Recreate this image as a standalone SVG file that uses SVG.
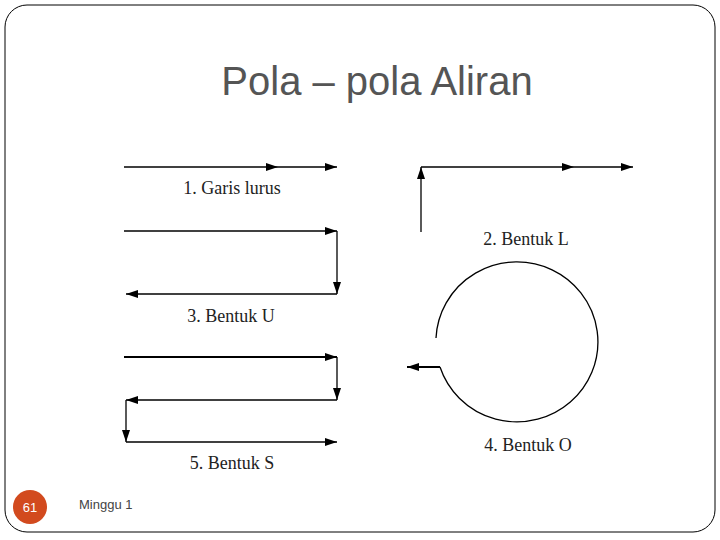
<svg xmlns="http://www.w3.org/2000/svg" width="720" height="540" viewBox="0 0 720 540">
<style>
.ln{stroke:#000;stroke-width:1.3;fill:none}
.lb{font-family:"Liberation Serif",serif;font-size:18px;fill:#222}
</style>
<defs>
<marker id="ah" viewBox="0 0 12 8" refX="12" refY="4" markerWidth="12" markerHeight="8" markerUnits="userSpaceOnUse" orient="auto"><path d="M0,0L12,4L0,8z" fill="#000"/></marker>
<marker id="mh" viewBox="0 0 12 8" refX="6" refY="4" markerWidth="12" markerHeight="8" markerUnits="userSpaceOnUse" orient="auto"><path d="M0,0L12,4L0,8z" fill="#000"/></marker>
</defs>
<rect x="5" y="5" width="710" height="527" rx="22" fill="#fff" stroke="#000" stroke-width="1"/>
<text x="377" y="95" text-anchor="middle" font-family="Liberation Sans,sans-serif" font-size="40" fill="#555">Pola – pola Aliran</text>
<g id="connectors">
<path class="ln" d="M124,167H272" marker-end="url(#mh)"/><path class="ln" d="M270,167H337" marker-end="url(#ah)"/>
<path class="ln" d="M124,231H337" marker-end="url(#ah)"/>
<path class="ln" d="M337,231V294" marker-end="url(#ah)"/>
<path class="ln" d="M337,294H126" marker-end="url(#ah)"/>
<path class="ln" style="stroke-width:2" d="M124,357H337" marker-end="url(#ah)"/>
<path class="ln" d="M337,357V400" marker-end="url(#ah)"/>
<path class="ln" d="M337,400H126" marker-end="url(#ah)"/>
<path class="ln" d="M126,400V442" marker-end="url(#ah)"/>
<path class="ln" d="M126,442H337" marker-end="url(#ah)"/>
<path class="ln" d="M421,232V167" marker-end="url(#ah)"/>
<path class="ln" d="M421,167H568" marker-end="url(#mh)"/><path class="ln" d="M566,167H633" marker-end="url(#ah)"/>
<path class="ln" d="M436,338A81,80 0 1 1 440,367"/>
<path class="ln" style="stroke-width:2" d="M440,367H407" marker-end="url(#ah)"/>
</g>
<g id="labels">
<text class="lb" x="232" y="194" text-anchor="middle">1. Garis lurus</text>
<text class="lb" x="526" y="245" text-anchor="middle">2. Bentuk L</text>
<text class="lb" x="231" y="322" text-anchor="middle">3. Bentuk U</text>
<text class="lb" x="528" y="451" text-anchor="middle">4. Bentuk O</text>
<text class="lb" x="232" y="469" text-anchor="middle">5. Bentuk S</text>
</g>
<g id="footer">
<circle cx="30" cy="507" r="17" fill="#d24a1e"/>
<text x="30" y="512" text-anchor="middle" font-family="Liberation Sans,sans-serif" font-size="13" fill="#fff">61</text>
<text x="79" y="509" font-family="Liberation Sans,sans-serif" font-size="13" fill="#444">Minggu 1</text>
</g>
</svg>
